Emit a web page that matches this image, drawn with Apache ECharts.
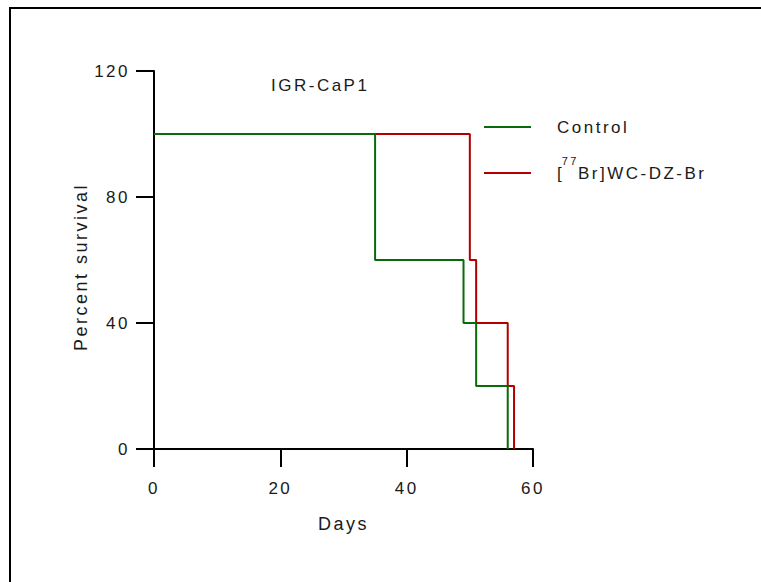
<!DOCTYPE html>
<html>
<head>
<meta charset="utf-8">
<script src="https://cdn.jsdelivr.net/npm/echarts@6/dist/echarts.min.js"></script>
<style>
    html, body { margin: 0; padding: 0; background: #fff; }
    #chart { width: 761px; height: 582px; }
    /* spaced-out lettering like the original plot */
    #chart text { letter-spacing: 2.5px; }
</style>
</head>
<body>
<div id="chart"></div>
<script>
// survival data (step curves)
var controlDays = [0, 35, 49, 51, 56];
var controlSurvival = [100, 60, 40, 20, 0];
var brDays = [0, 50, 51, 56, 57];
var brSurvival = [100, 60, 40, 20, 0];
var xTicks = [0, 20, 40, 60];
var yTicks = [0, 40, 80, 120];

var controlName = 'Control';
var brName = '[77Br]WC-DZ-Br';

function pairs(xs, ys) {
    return xs.map(function (x, i) { return [x, ys[i]]; });
}

(function () {
    var myChart = echarts.init(document.getElementById('chart'), null, { renderer: 'svg' });
    var font = 'Liberation Sans, Arial, sans-serif';

    var option = {
        backgroundColor: '#fff',
        animation: false,
        title: {
            text: 'IGR-CaP1',
            left: 271,
            top: 75,
            padding: 0,
            textStyle: { fontFamily: font, fontSize: 17, fontWeight: 'normal', color: '#1a1a1a', lineHeight: 20 }
        },
        graphic: [{
            type: 'rect',
            shape: { x: 10, y: 8, width: 800, height: 700 },
            style: { fill: 'none', stroke: '#000', lineWidth: 2 },
            silent: true
        }],
        legend: {
            orient: 'vertical',
            left: 484,
            top: 109,
            padding: 0,
            itemGap: 10,
            itemWidth: 47,
            itemHeight: 2,
            icon: 'rect',
            data: [controlName, brName],
            formatter: function (name) {
                if (name === brName) return '[{sup|77}Br]WC-DZ-Br';
                return name;
            },
            textStyle: {
                fontFamily: font,
                fontSize: 17,
                color: '#1a1a1a',
                lineHeight: 36,
                padding: [0, 0, 0, 21],
                rich: {
                    sup: { fontFamily: font, fontSize: 11, lineHeight: 11, verticalAlign: 'top', color: '#1a1a1a', padding: [0, 4, 0, 0] }
                }
            }
        },
        grid: { left: 154, right: 228, top: 71, bottom: 133 },
        xAxis: {
            type: 'value',
            min: xTicks[0],
            max: xTicks[xTicks.length - 1],
            interval: 20,
            name: 'Days',
            nameLocation: 'middle',
            nameGap: 66,
            nameTextStyle: { fontFamily: font, fontSize: 18, color: '#1a1a1a' },
            axisLine: { onZero: false, lineStyle: { color: '#000', width: 2 } },
            axisTick: { length: 18, lineStyle: { color: '#000', width: 2 } },
            axisLabel: { margin: 31, fontFamily: font, fontSize: 17, color: '#1a1a1a' },
            splitLine: { show: false }
        },
        yAxis: {
            type: 'value',
            min: yTicks[0],
            max: yTicks[yTicks.length - 1],
            interval: 40,
            name: 'Percent survival',
            nameLocation: 'middle',
            nameGap: 64,
            nameTextStyle: { fontFamily: font, fontSize: 18, color: '#1a1a1a', padding: [0, 14, 0, 0] },
            axisLine: { show: true, onZero: false, lineStyle: { color: '#000', width: 2 } },
            axisTick: { show: true, length: 18, lineStyle: { color: '#000', width: 2 } },
            axisLabel: { margin: 24, fontFamily: font, fontSize: 17, color: '#1a1a1a' },
            splitLine: { show: false }
        },
        series: [
            {
                name: brName,
                type: 'line',
                step: 'end',
                symbol: 'none',
                color: '#b00000',
                lineStyle: { width: 2, color: '#b00000' },
                data: pairs(brDays, brSurvival)
            },
            {
                name: controlName,
                type: 'line',
                step: 'end',
                symbol: 'none',
                color: '#0a6a0a',
                lineStyle: { width: 2, color: '#0a6a0a' },
                data: pairs(controlDays, controlSurvival)
            }
        ]
    };

    myChart.setOption(option);
    window.addEventListener('resize', function () {
        myChart.resize();
    });
})();
</script>
</body>
</html>
